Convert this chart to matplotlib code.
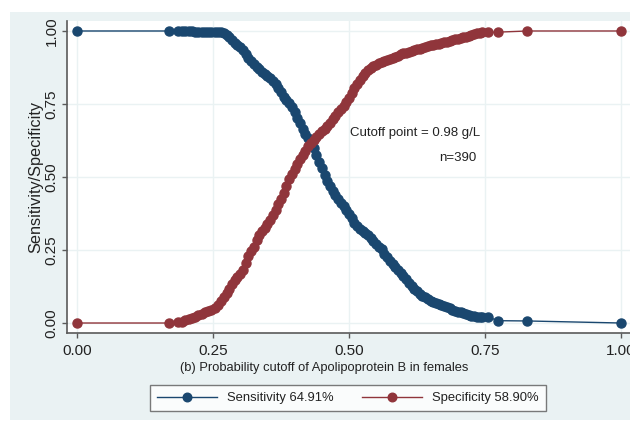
"""Sensitivity/specificity versus probability cutoff (Stata s2color look)."""

import matplotlib

matplotlib.use("Agg")
import matplotlib.pyplot as plt  # noqa: E402
from matplotlib.patches import Rectangle  # noqa: E402

plt.rcParams["font.family"] = ["Liberation Sans", "DejaVu Sans"]

# Cutoff values with the sensitivity / specificity.
cutoffs = [
    0.000, 0.169, 0.186, 0.193, 0.199, 0.205, 0.211, 0.217, 0.223, 0.229,
    0.235, 0.241, 0.247, 0.253, 0.259, 0.265, 0.270, 0.275, 0.280, 0.285,
    0.290, 0.295, 0.300, 0.305, 0.310, 0.315, 0.320, 0.325, 0.330, 0.335,
    0.340, 0.345, 0.350, 0.355, 0.360, 0.365, 0.370, 0.375, 0.380, 0.385,
    0.390, 0.395, 0.400, 0.405, 0.410, 0.415, 0.420, 0.425, 0.430, 0.435,
    0.440, 0.445, 0.450, 0.455, 0.460, 0.465, 0.470, 0.475, 0.480, 0.485,
    0.490, 0.495, 0.500, 0.505, 0.510, 0.515, 0.520, 0.525, 0.530, 0.535,
    0.540, 0.545, 0.550, 0.555, 0.560, 0.565, 0.570, 0.575, 0.580, 0.585,
    0.590, 0.595, 0.600, 0.605, 0.610, 0.615, 0.620, 0.625, 0.630, 0.635,
    0.640, 0.645, 0.650, 0.655, 0.660, 0.665, 0.670, 0.675, 0.680, 0.685,
    0.690, 0.695, 0.700, 0.705, 0.710, 0.715, 0.720, 0.725, 0.730, 0.735,
    0.740, 0.745, 0.756, 0.773, 0.828, 1.000,
]
sensitivity = [
    1.000, 1.000, 1.000, 1.000, 1.000, 1.000, 1.000, 0.997, 0.997, 0.997,
    0.997, 0.997, 0.997, 0.997, 0.995, 0.995, 0.993, 0.985, 0.978, 0.968,
    0.960, 0.952, 0.944, 0.934, 0.921, 0.908, 0.897, 0.888, 0.878, 0.869,
    0.860, 0.853, 0.846, 0.838, 0.828, 0.817, 0.805, 0.790, 0.775, 0.763,
    0.752, 0.738, 0.722, 0.703, 0.684, 0.665, 0.648, 0.632, 0.614, 0.598,
    0.574, 0.552, 0.530, 0.508, 0.487, 0.468, 0.452, 0.438, 0.425, 0.412,
    0.400, 0.388, 0.375, 0.358, 0.343, 0.333, 0.323, 0.316, 0.309, 0.300,
    0.291, 0.282, 0.272, 0.262, 0.252, 0.238, 0.226, 0.214, 0.203, 0.192,
    0.182, 0.172, 0.162, 0.150, 0.138, 0.127, 0.118, 0.108, 0.101, 0.094,
    0.088, 0.082, 0.077, 0.072, 0.068, 0.064, 0.060, 0.057, 0.054, 0.050,
    0.046, 0.042, 0.039, 0.036, 0.033, 0.030, 0.027, 0.025, 0.023, 0.021,
    0.020, 0.020, 0.021, 0.008, 0.007, 0.000,
]
specificity = [
    0.000, 0.000, 0.003, 0.005, 0.010, 0.013, 0.018, 0.022, 0.027, 0.031,
    0.036, 0.041, 0.046, 0.051, 0.062, 0.074, 0.090, 0.103, 0.118, 0.133,
    0.147, 0.158, 0.168, 0.180, 0.205, 0.228, 0.246, 0.262, 0.285, 0.300,
    0.314, 0.326, 0.338, 0.352, 0.370, 0.388, 0.408, 0.425, 0.445, 0.470,
    0.492, 0.510, 0.528, 0.545, 0.560, 0.575, 0.590, 0.606, 0.618, 0.628,
    0.637, 0.648, 0.658, 0.665, 0.673, 0.685, 0.700, 0.710, 0.722, 0.733,
    0.743, 0.756, 0.770, 0.788, 0.805, 0.820, 0.833, 0.845, 0.855, 0.865,
    0.873, 0.879, 0.884, 0.889, 0.893, 0.897, 0.900, 0.904, 0.908, 0.912,
    0.916, 0.920, 0.923, 0.926, 0.929, 0.932, 0.935, 0.938, 0.940, 0.943,
    0.945, 0.948, 0.951, 0.953, 0.955, 0.957, 0.959, 0.961, 0.963, 0.965,
    0.968, 0.971, 0.974, 0.976, 0.978, 0.980, 0.983, 0.986, 0.989, 0.992,
    0.994, 0.995, 0.995, 0.996, 1.000, 1.000,
]
tick_values = [0.0, 0.25, 0.5, 0.75, 1.0]
tick_labels = ["0.00", "0.25", "0.50", "0.75", "1.00"]
series_labels = ["Sensitivity 64.91%", "Specificity 58.90%"]

BG = "#eaf2f3"
BLUE = "#1a476f"
RED = "#90353b"
TEXT = "#222222"
AXIS = "#5a5a5a"

fig = plt.figure(figsize=(6.30, 4.23), dpi=100, facecolor="white")
fig.patches.append(Rectangle((10 / 630, 3 / 423), 620 / 630, 408 / 423,
                             transform=fig.transFigure, facecolor=BG,
                             edgecolor="none", zorder=-10))

ax = fig.add_axes([67 / 630, 90 / 423, 563 / 630, 312 / 423])
ax.set_zorder(1)
ax.set_facecolor("white")

ax.plot(cutoffs, sensitivity, color=BLUE, marker="o", markersize=6.5,
        linewidth=1.0, label=series_labels[0], zorder=3, clip_on=False)
ax.plot(cutoffs, specificity, color=RED, marker="o", markersize=6.5,
        linewidth=1.0, label=series_labels[1], zorder=3, clip_on=False)

ax.set_xlim(-0.0184, 1.0165)
ax.set_ylim(-0.0342, 1.0342)
ax.set_xticks(tick_values, tick_labels)
ax.set_yticks(tick_values, tick_labels)
ax.grid(True, color=BG, linewidth=1.0)
ax.set_axisbelow(True)

for side in ("top", "right"):
    ax.spines[side].set_visible(False)
for side in ("left", "bottom"):
    ax.spines[side].set_color(AXIS)
    ax.spines[side].set_linewidth(1.2)

ax.tick_params(axis="both", direction="out", length=3.6, width=1.0,
               color=AXIS, labelsize=11, labelcolor=TEXT)
ax.tick_params(axis="x", pad=4.5)
ax.tick_params(axis="y", pad=2.5)
for label in ax.get_yticklabels():
    label.set_rotation(90)
    label.set_va("center")

ax.set_ylabel("Sensitivity/Specificity", fontsize=11.7, color=TEXT, labelpad=1)
fig.text(324 / 630, (423 - 368) / 423,
         "(b) Probability cutoff of Apolipoprotein B in females",
         fontsize=9.3, color=TEXT, ha="center", va="center")

ax.text(0.502, 0.651, "Cutoff point = 0.98 g/L", fontsize=9.5,
        color=TEXT, ha="left", va="center")
ax.text(0.735, 0.565, "n=390", fontsize=9.5, color=TEXT,
        ha="right", va="center")

legend = ax.legend(loc="center", bbox_to_anchor=(348 / 630, (423 - 398) / 423),
                   bbox_transform=fig.transFigure, ncol=2, fontsize=9.4,
                   frameon=True, fancybox=False, handlelength=4.6,
                   handletextpad=0.77, columnspacing=2.15, borderpad=0.55,
                   markerscale=0.95)
legend.get_frame().set_edgecolor(AXIS)
legend.get_frame().set_linewidth(1.0)
for text in legend.get_texts():
    text.set_color(TEXT)

fig.savefig("out.png", dpi=100, facecolor=fig.get_facecolor())
